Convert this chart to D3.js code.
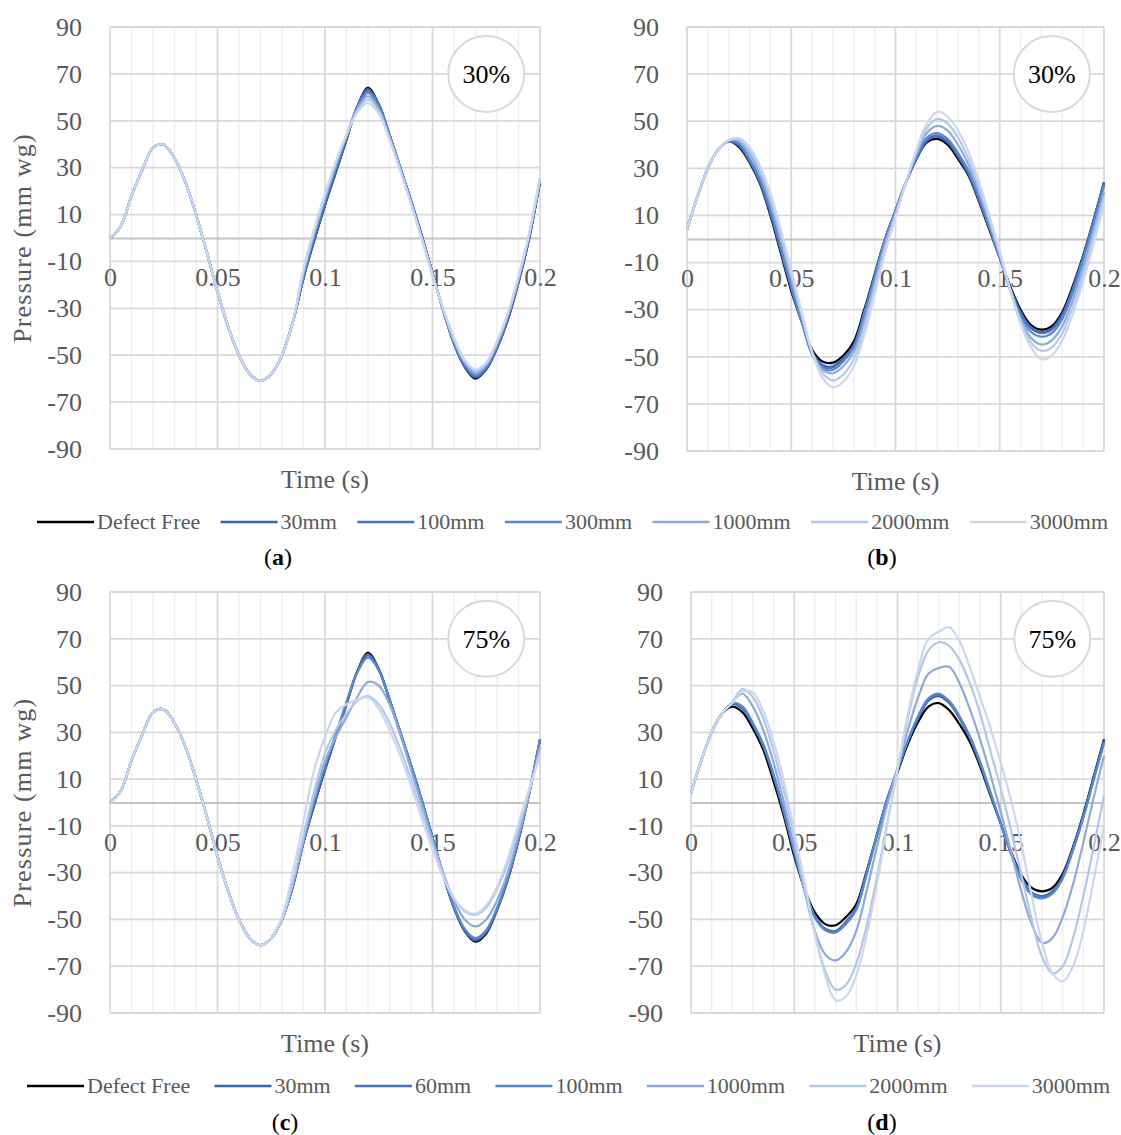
<!DOCTYPE html>
<html lang="en">
<head>
<meta charset="UTF-8">
<title>Pressure vs time</title>
<script src="https://cdn.jsdelivr.net/npm/d3@7"></script>
<style>
  body { margin: 0; background: #fff; }
</style>
</head>
<body>
<div id="chart"></div>
<script>
// time base (s)
const time = [0, 0.005, 0.01, 0.015, 0.02, 0.025, 0.03, 0.035, 0.04, 0.045, 0.05, 0.055, 0.06, 0.065, 0.07, 0.075, 0.08, 0.085, 0.09, 0.095, 0.1,
  0.105, 0.11, 0.115, 0.12, 0.125, 0.13, 0.135, 0.14, 0.145, 0.15, 0.155, 0.16, 0.165, 0.17, 0.175, 0.18, 0.185, 0.19, 0.195, 0.2];

const namesTop = ["Defect Free", "30mm", "100mm", "300mm", "1000mm", "2000mm", "3000mm"];
const namesBottom = ["Defect Free", "30mm", "60mm", "100mm", "1000mm", "2000mm", "3000mm"];
const lineColors = ["#000000", "#3a63ae", "#4472c4", "#5b87d2", "#8eaadb", "#b4c7e7", "#cbd7ee"];

const yTicks = [90, 70, 50, 30, 10, -10, -30, -50, -70, -90];
const xTicks = [0, 0.05, 0.1, 0.15, 0.2];
const xMinor = [0.01, 0.02, 0.03, 0.04, 0.06, 0.07, 0.08, 0.09, 0.11, 0.12, 0.13, 0.14, 0.16, 0.17, 0.18, 0.19];

// (a) 30%
const aDefectFree = [0, 5, 18, 29, 38.5, 39.8, 34, 24, 10, -6, -23, -38, -50, -58, -61, -58, -50, -36, -17, -1, 14, 28, 42, 56, 64, 57, 44, 30, 16, 1, -15, -31, -45, -55, -60, -56, -47, -35, -19, 0, 24];
const a30mm = [0, 5, 18, 29, 38.5, 39.8, 34, 24, 10, -6, -23, -38, -50, -58, -61, -58, -50, -36, -17, -1, 14, 28, 42, 56, 63.5, 57, 44, 30, 16, 1, -15, -31, -45, -55, -59.5, -56, -47, -35, -19, 0, 24];
const a100mm = [0, 5, 18, 29, 38.5, 39.8, 34, 24, 10, -6, -23, -38, -50, -58, -61, -58, -50, -36, -17, 0, 15, 29, 43, 56, 63, 57, 44, 30, 16, 1, -15, -31, -45, -54.5, -59, -55.5, -47, -34, -18, 1, 25];
const a300mm = [0, 5, 18, 29, 38.5, 39.8, 34, 24, 10, -6, -23, -38, -50, -58, -61, -58, -50, -36, -16, 1, 16, 30, 43, 55.5, 62, 56, 43.5, 30, 15.5, 0.5, -15, -31, -44.5, -54, -58.5, -55, -46, -34, -18, 1, 25];
const a1000mm = [0, 5, 18, 29, 38.5, 39.8, 34, 24, 10, -6, -23, -38, -50, -58, -61, -58, -50, -36, -15, 2, 17, 31, 44, 55, 60.5, 55, 43, 29.5, 15, 0, -15.5, -31, -44, -53, -57.5, -54, -45, -33, -17, 1.5, 25];
const a2000mm = [0, 5, 18, 29, 38.5, 39.8, 34, 24, 10, -6, -23, -38, -50, -58, -61, -58, -50, -36, -14, 3, 18, 32, 44, 54, 59, 54, 42.5, 29, 15, 0, -15.5, -30.5, -43, -52.5, -56.5, -53.5, -44.5, -32.5, -17, 2, 25.5];
const a3000mm = [0, 5, 18, 29, 38.5, 39.8, 34, 24, 10, -6, -23, -38, -50, -58, -61, -58, -50, -36, -13, 4, 19, 32.5, 44, 53.5, 57.5, 53, 42, 28.5, 14.5, -0.5, -16, -30, -42.5, -52, -56, -53, -44, -32, -16.5, 2, 26];

// (b) 30%
const bDefectFree = [4, 18, 30, 38, 41.5, 39, 32.5, 23.5, 10, -6, -22, -35, -47, -52, -52.5, -49.5, -43.5, -30, -15, 0, 12, 24, 34, 41, 42.5, 40, 34, 27, 16, 4, -8, -20, -30, -36.5, -38.5, -37, -31, -20, -7, 8, 24];
const b30mm = [4, 18, 30, 38, 41.5, 39.5, 33, 24, 11, -5, -21, -35, -48, -53.5, -54, -50.5, -45, -31, -15.5, 0, 12, 24, 34, 41.5, 43.5, 41, 35, 27.5, 16.5, 4.5, -8, -20.5, -31, -37.5, -39.5, -38, -32, -21, -7.5, 8, 24];
const b100mm = [4, 18, 30, 38, 41.5, 40, 33.5, 24.5, 11.5, -4.5, -20.5, -35, -48.5, -54, -54.5, -51, -45.5, -31.5, -16, 0, 12, 24, 34.5, 42, 44, 41.5, 35.5, 28, 17, 5, -8, -21, -31.5, -38, -40, -38.5, -32.5, -21.5, -8, 7.5, 23.5];
const b300mm = [4, 18, 30, 38, 41.5, 40.5, 34, 25.5, 12.5, -3.5, -20, -35, -49, -55, -55.5, -52, -46, -32, -16.5, -0.5, 12, 24, 35, 43, 45, 42.5, 36.5, 29, 18, 5.5, -8, -21.5, -32.5, -39.5, -41.5, -40, -34, -23, -9, 6.5, 22.5];
const b1000mm = [4, 18, 30, 38, 41.8, 41.5, 36, 27.5, 15.5, 0, -17, -33, -48, -55.5, -57, -54, -48, -35, -18.5, -2, 11, 24, 36, 45, 48, 46, 40, 31.5, 20, 7, -7, -21.5, -34, -42, -44.8, -43, -37, -26, -12, 3.5, 20];
const b2000mm = [4, 18, 30, 38, 42, 42.3, 37.5, 29.5, 17.5, 2, -15, -32, -48, -57, -60, -57.5, -51, -38, -21, -4, 10, 24, 37, 47, 51, 49, 43, 34, 22, 8.5, -6, -21.5, -35, -44, -47.5, -46, -40, -29, -15, 1, 18];
const b3000mm = [4, 18, 30, 38, 42, 42.8, 39, 31, 19.5, 4, -13, -31, -48, -59, -63, -60.5, -54, -41, -23.5, -6, 9, 24, 38, 49, 54, 52, 46, 37, 24.5, 10, -5, -21.5, -36, -46, -51, -49.5, -43, -32, -18, -2, 15];

// (c) 75%
const cDefectFree = [0, 5, 18, 29, 38.5, 39.8, 34, 24, 10, -6, -23, -38, -50, -58, -61, -58, -50, -36, -17, -1, 14, 28, 42, 56, 64, 57, 44, 30, 16, 1, -15, -31, -45, -55, -59.5, -56, -46, -33, -16, 4, 27];
const c30mm = [0, 5, 18, 29, 38.5, 39.8, 34, 24, 10, -6, -23, -38, -50, -58, -61, -58, -50, -36, -17, -1, 14, 28, 42, 56, 63.5, 57, 44, 30, 16, 1, -15, -31, -45, -55, -59, -55.5, -46, -33, -16, 4, 27];
const c60mm = [0, 5, 18, 29, 38.5, 39.8, 34, 24, 10, -6, -23, -38, -50, -58, -61, -58, -50, -36, -17, 0, 15, 29, 42.5, 56, 63, 57, 44, 30, 16, 1, -15, -31, -44.5, -54.5, -58.5, -55, -45.5, -32.5, -15.5, 4, 27];
const c100mm = [0, 5, 18, 29, 38.5, 39.8, 34, 24, 10, -6, -23, -38, -50, -58, -61, -58, -50, -35, -16, 1, 16, 29, 43, 55.5, 62, 56.5, 44, 30, 16, 1, -15, -31, -44.5, -54, -58, -54.5, -45, -32, -15, 4.5, 27];
const c1000mm = [0, 5, 18, 29, 38.5, 39.8, 34, 24, 10, -6, -23, -38, -50, -58, -61, -58, -50, -35, -16, 2, 17.5, 28, 36.5, 45, 51.5, 50, 42, 29, 14, -1, -16, -30, -42, -50, -53, -50, -42, -30, -14, 4, 24];
const c2000mm = [0, 5, 18, 29, 38.5, 39.8, 34, 24, 10, -6, -23, -38, -50, -58, -61, -58, -50, -34, -14, 5, 21, 31, 38, 43.5, 45.5, 42, 34, 23, 10, -4, -18, -31, -41, -46.5, -48, -45, -37, -26, -11, 5, 22];
const c3000mm = [0, 5, 18, 29, 38.5, 39.8, 34, 24, 10, -6, -23, -38, -50, -58, -61, -58, -49, -30, -8, 14, 28, 38.5, 42, 44, 45, 40, 31, 20, 7, -7, -20, -32, -41, -46, -47.5, -44, -36, -24, -9, 6, 20];

// (d) 75%
const dDefectFree = [4, 18, 30, 38, 41, 38.5, 31.5, 22.5, 9, -6, -23, -37, -47, -52, -52.5, -49, -43.5, -29.5, -14, 1, 13, 25, 34.5, 41, 42.5, 39.5, 33.5, 26, 15.5, 3, -9, -21, -31, -36.5, -38, -36.5, -30.5, -19, -5, 11, 27];
const d30mm = [4, 18, 30, 38, 42, 40, 33, 24, 11, -4.5, -21.5, -37, -48.5, -54, -55, -51, -45, -30, -14, 1.5, 14, 26, 36, 43.5, 45.5, 42.5, 36, 27.5, 16.5, 3.5, -9, -21.5, -32, -38.5, -40, -38, -31.5, -19.5, -5.5, 10.5, 26.5];
const d60mm = [4, 18, 30, 38, 42.3, 40.5, 33.5, 24.5, 11.5, -4, -21, -37, -49, -54.5, -55.5, -51.5, -45.5, -30.5, -14, 1.5, 14, 26.5, 36.5, 44, 46, 43, 36.5, 28, 17, 4, -9, -22, -32.5, -39, -40.5, -38.5, -32, -20, -6, 10, 26];
const d100mm = [4, 18, 30, 38, 42.5, 41, 34, 25, 12, -3.5, -20.5, -36.5, -49, -54.5, -55.5, -52, -46, -31, -14.5, 1, 14, 26.5, 37, 44.5, 46.5, 43.5, 37, 28.5, 17.5, 4.5, -9, -22, -33, -39.5, -41, -39, -32.5, -20.5, -6.5, 9.5, 25.5];
const d1000mm = [4, 18, 30, 38, 43, 46.5, 41, 31, 17, 0, -19, -38, -55, -65, -67.5, -64, -55, -38, -19, -1, 15, 31, 45, 55, 57.5, 58, 51, 40, 27, 12, -4, -21, -38, -52, -60, -58, -49, -35, -17, 2, 20];
const d2000mm = [4, 18, 30, 38, 43, 48.5, 45, 36, 22, 5, -15, -36, -56, -72, -80, -78, -69, -53, -32, -9, 14, 36, 54, 65, 68.5, 67, 61, 51, 38, 22, 6, -12, -31, -50, -66, -73, -70, -58, -40, -19, 3];
const d3000mm = [4, 18, 30, 38, 42.5, 47.5, 47, 39, 26, 9, -12, -34, -56, -74, -84.5, -83, -74, -57, -35, -10, 14, 38, 57, 70, 73, 75, 69, 58, 45, 32, 17, 1, -18, -40, -60, -73, -76.5, -70, -55, -33, -10];

const width = 1121;
const height = 1135;
const font = "'Liberation Serif', 'Times New Roman', serif";

const svg = d3.select("#chart").append("svg")
    .attr("width", width)
    .attr("height", height)
    .attr("font-family", font);

const panels = [
    {left: 110, right: 540, top: 27, bottom: 449, yTitle: true, badge: "30%",
     series: [aDefectFree, a30mm, a100mm, a300mm, a1000mm, a2000mm, a3000mm]},
    {left: 687, right: 1104, top: 27, bottom: 451, yTitle: false, badge: "30%",
     series: [bDefectFree, b30mm, b100mm, b300mm, b1000mm, b2000mm, b3000mm]},
    {left: 110, right: 540, top: 592, bottom: 1013, yTitle: true, badge: "75%",
     series: [cDefectFree, c30mm, c60mm, c100mm, c1000mm, c2000mm, c3000mm]},
    {left: 691, right: 1104, top: 592, bottom: 1013, yTitle: false, badge: "75%",
     series: [dDefectFree, d30mm, d60mm, d100mm, d1000mm, d2000mm, d3000mm]}
];

function drawPanel(p) {
    const x = d3.scaleLinear().domain([0, 0.2]).range([p.left, p.right]);
    const y = d3.scaleLinear().domain([-90, 90]).range([p.bottom, p.top]);
    const g = svg.append("g");

    // minor vertical gridlines
    g.append("g").selectAll("line").data(xMinor).join("line")
        .attr("x1", d => x(d)).attr("x2", d => x(d))
        .attr("y1", y(90)).attr("y2", y(-90))
        .attr("stroke", "#efefef").attr("stroke-width", 1.5);

    // major vertical gridlines
    g.append("g").selectAll("line").data(xTicks).join("line")
        .attr("x1", d => x(d)).attr("x2", d => x(d))
        .attr("y1", y(90)).attr("y2", y(-90))
        .attr("stroke", "#d9d9d9").attr("stroke-width", 1.8);

    // horizontal gridlines
    g.append("g").selectAll("line").data(yTicks).join("line")
        .attr("x1", x(0)).attr("x2", x(0.2))
        .attr("y1", d => y(d)).attr("y2", d => y(d))
        .attr("stroke", "#d9d9d9").attr("stroke-width", 1.8);

    // y axis labels (plain hyphen for negatives, as in the source)
    g.append("g")
        .attr("transform", `translate(${x(0)},0)`)
        .call(d3.axisLeft(y).tickValues(yTicks).tickFormat(d => String(d)).tickSize(0).tickPadding(28))
        .call(a => a.select(".domain").remove())
        .attr("font-family", font)
        .attr("font-size", 26)
        .call(a => a.selectAll("text").attr("fill", "#595959"));

    // horizontal axis through zero, with its labels
    g.append("g")
        .attr("transform", `translate(0,${y(0)})`)
        .call(d3.axisBottom(x).tickValues(xTicks).tickFormat(d => String(d)).tickSize(0).tickPadding(30))
        .attr("font-family", font)
        .attr("font-size", 26)
        .call(a => a.select(".domain").attr("stroke", "#c4c4c4").attr("stroke-width", 2))
        .call(a => a.selectAll("text").attr("fill", "#595959"));

    // curves
    const line = d3.line()
        .x((d, i) => x(time[i]))
        .y(d => y(d))
        .curve(d3.curveCatmullRom.alpha(0.5));

    g.append("g").selectAll("path").data(p.series).join("path")
        .attr("d", line)
        .attr("fill", "none")
        .attr("stroke", (d, i) => lineColors[i])
        .attr("stroke-width", 2.2)
        .attr("stroke-linejoin", "round");

    // axis titles
    g.append("text")
        .attr("x", (x(0) + x(0.2)) / 2)
        .attr("y", y(-90) + 39)
        .attr("text-anchor", "middle")
        .attr("font-size", 26)
        .attr("fill", "#595959")
        .text("Time (s)");

    if (p.yTitle) {
        g.append("text")
            .attr("transform", `translate(31,${(y(90) + y(-90)) / 2}) rotate(-90)`)
            .attr("text-anchor", "middle")
            .attr("font-size", 26)
            .attr("letter-spacing", 1.2)
            .attr("fill", "#595959")
            .text("Pressure (mm wg)");
    }

    // circled percentage
    g.append("circle")
        .attr("cx", x(0.175)).attr("cy", y(70)).attr("r", 38)
        .attr("fill", "#fff").attr("stroke", "#d9d9d9").attr("stroke-width", 2);
    g.append("text")
        .attr("x", x(0.175)).attr("y", y(70) + 9)
        .attr("text-anchor", "middle")
        .attr("font-size", 26)
        .attr("fill", "#000")
        .text(p.badge);
}

panels.forEach(drawPanel);

function drawLegend(names, cy, x0, x1) {
    const lg = svg.append("g").attr("font-size", 22).attr("fill", "#595959");
    const items = lg.selectAll("g").data(names).join("g");
    items.append("line")
        .attr("x1", 0).attr("x2", 57).attr("y1", 0).attr("y2", 0)
        .attr("stroke", (d, i) => lineColors[i]).attr("stroke-width", 2.5);
    items.append("text").attr("x", 60).attr("y", 7).text(d => d);
    const widths = items.nodes().map(n => n.getBBox().width);
    const gap = (x1 - x0 - d3.sum(widths)) / (names.length - 1);
    let pos = x0;
    items.attr("transform", (d, i) => {
        const t = `translate(${pos},${cy})`;
        pos += widths[i] + gap;
        return t;
    });
}

drawLegend(namesTop, 522, 37, 1108);
drawLegend(namesBottom, 1086, 27, 1110);

// sub-figure captions
const captions = [["a", 278, 565], ["b", 882, 565], ["c", 285, 1130], ["d", 882, 1130]];
captions.forEach(([c, cx, cy]) => {
    const t = svg.append("text")
        .attr("x", cx).attr("y", cy)
        .attr("text-anchor", "middle")
        .attr("font-size", 24)
        .attr("fill", "#000");
    t.append("tspan").text("(");
    t.append("tspan").attr("font-weight", "bold").text(c);
    t.append("tspan").text(")");
});
</script>
</body>
</html>
